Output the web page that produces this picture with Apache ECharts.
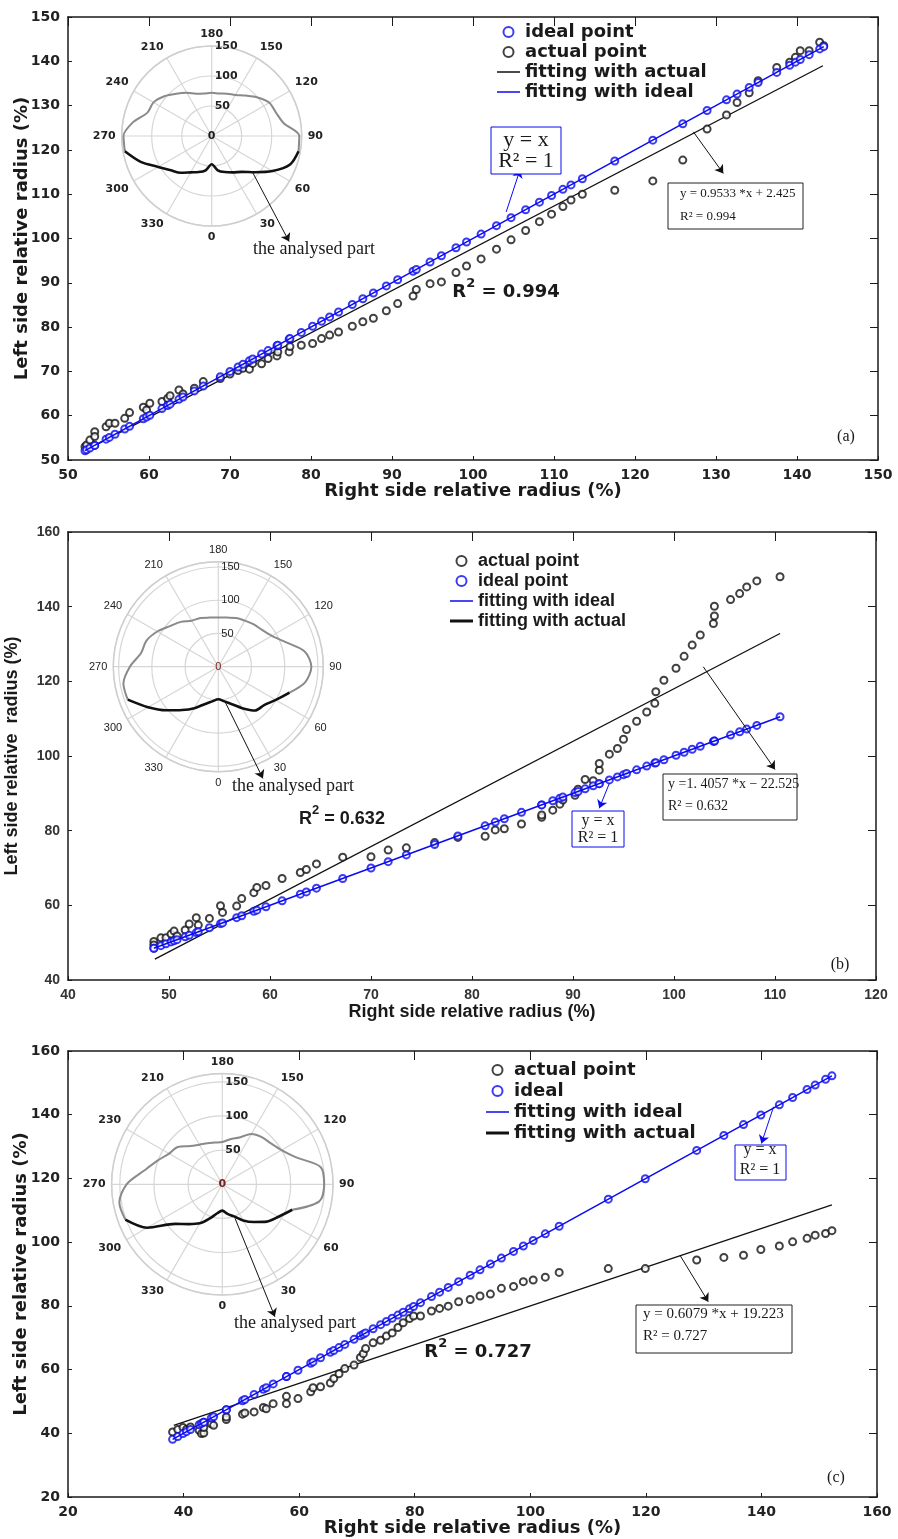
<!DOCTYPE html>
<html>
<head>
<meta charset="utf-8">
<title>Left vs right side relative radius</title>
<script src="https://cdn.jsdelivr.net/npm/echarts@6/dist/echarts.min.js"></script>
<style>
  html, body { margin: 0; padding: 0; background: #fff; }
  #chart { width: 898px; height: 1539px; }
</style>
</head>
<body>
<div id="chart"></div>
<script>
// ---------- panel (a) ----------
const rightA = [52.1, 52.3, 52.7, 53.3, 53.3, 54.7, 55.1, 55.8, 57.0, 57.6,
    59.3, 59.7, 60.1, 61.6, 62.3, 62.6, 63.7, 64.2, 65.6, 66.7, 68.8,
    70.0, 71.0, 71.6, 72.4, 72.8, 73.9, 74.7, 75.8, 75.9, 77.3,
    77.4, 78.8, 80.2, 81.3, 82.3, 83.4, 85.1, 86.4, 87.7, 89.3,
    90.7, 92.6, 93.0, 94.7, 96.1, 97.9, 99.2, 101.0, 102.9, 104.7,
    106.5, 108.2, 109.7, 111.1, 112.1, 113.5, 117.5, 122.2, 125.9, 128.9,
    131.3, 132.6, 134.1, 135.2, 137.5, 139.1, 139.8, 140.4, 141.5, 142.8, 143.3];
const leftA = [53.0, 53.4, 54.5, 56.4, 55.3, 57.5, 58.3, 58.3, 59.4, 60.7,
    61.9, 61.3, 62.8, 63.2, 63.9, 64.5, 65.8, 64.9, 66.2, 67.7, 68.4,
    69.4, 70.2, 70.7, 70.5, 71.8, 71.7, 72.9, 73.5, 74.4, 74.4,
    75.6, 75.9, 76.3, 77.4, 78.2, 78.9, 80.2, 81.2, 82.0, 83.7,
    85.3, 87.0, 88.5, 89.8, 90.2, 92.3, 93.8, 95.4, 97.6, 99.7,
    101.8, 103.8, 105.5, 107.2, 108.7, 110.0, 110.9, 113.0, 117.7, 124.7,
    127.9, 130.7, 132.9, 135.6, 138.6, 139.8, 140.9, 142.4, 142.4, 144.3, 143.5];
const fitActualA = [[52.0, 52.0], [143.2, 139.0]];
const fitIdealA = [[52.1, 52.1], [143.3, 143.3]];

// ---------- panel (b) ----------
const rightB = [48.5, 48.5, 49.2, 49.7, 50.2, 50.5, 50.8, 51.6, 52.0, 52.7,
    52.9, 54.0, 55.1, 55.3, 56.7, 57.2, 58.4, 58.7, 59.6, 61.2,
    63.0, 63.6, 64.6, 67.2, 70.0, 71.7, 73.5, 76.3, 78.6, 81.3,
    82.3, 83.2, 84.9, 86.9, 86.9, 88.0, 88.7, 89.0, 90.2, 90.5,
    91.2, 92.0, 92.6, 92.6, 93.6, 94.4, 95.0, 95.3, 96.3, 97.3,
    98.1, 98.2, 99.0, 100.2, 101.0, 101.8, 102.6, 103.9, 104.0, 104.0,
    105.6, 106.5, 107.2, 108.2, 110.5];
const leftB = [50.3, 49.4, 51.3, 51.3, 52.3, 53.1, 51.8, 53.4, 55.0, 56.7,
    54.7, 56.5, 59.9, 58.1, 59.8, 61.8, 63.4, 64.8, 65.3, 67.2,
    68.8, 69.6, 71.1, 72.9, 73.0, 74.8, 75.4, 76.8, 78.2, 78.5,
    80.2, 80.5, 81.8, 83.6, 84.2, 85.5, 87.1, 88.2, 89.5, 91.1,
    93.7, 93.4, 96.2, 98.0, 100.5, 102.0, 104.5, 107.1, 109.3, 111.8,
    114.1, 117.2, 120.3, 123.5, 126.7, 129.7, 132.4, 135.5, 137.5, 140.1,
    141.9, 143.5, 145.3, 146.9, 148.0];
const fitActualB = [[48.6, 45.6], [110.5, 132.8]];
const fitIdealB = [[48.5, 48.5], [110.5, 110.5]];

// ---------- panel (c) ----------
const rightC = [38.1, 39.0, 39.9, 40.5, 41.2, 42.7, 43.1, 43.5, 43.5, 44.8,
    45.2, 47.4, 47.4, 50.2, 50.6, 52.2, 53.8, 54.3, 55.5, 57.8,
    57.8, 59.8, 62.0, 62.4, 63.7, 65.4, 66.0, 66.9, 67.9, 69.5,
    70.6, 71.1, 71.5, 72.8, 74.1, 75.1, 76.1, 77.1, 78.0, 79.1,
    79.8, 81.0, 82.9, 84.3, 85.8, 87.6, 89.6, 91.3, 93.1, 95.0,
    97.1, 98.8, 100.5, 102.6, 105.0, 113.5, 119.9, 128.8, 133.5, 136.9,
    139.9, 143.1, 145.4, 147.9, 149.3, 151.1, 152.2];
const leftC = [40.4, 41.2, 41.8, 41.2, 42.0, 40.9, 39.9, 40.1, 41.8, 43.0,
    42.5, 44.3, 45.1, 46.0, 46.4, 46.7, 48.1, 47.7, 49.3, 51.6,
    49.3, 50.9, 53.0, 54.3, 54.6, 55.8, 57.2, 58.7, 60.3, 61.4,
    63.8, 65.0, 66.6, 68.4, 69.2, 70.5, 71.5, 73.2, 74.7, 76.0,
    76.8, 76.8, 78.4, 79.2, 79.9, 81.3, 82.0, 83.1, 83.7, 85.5,
    86.1, 87.6, 88.1, 89.0, 90.5, 91.7, 91.7, 94.4, 95.2, 95.9,
    97.7, 98.8, 100.1, 101.2, 102.2, 102.7, 103.6];
const fitActualC = [[38.3, 42.5], [152.2, 111.7]];
const fitIdealC = [[38.1, 38.1], [152.2, 152.2]];

// ---------- inset outlines (radius at each angle, degrees) ----------
const outlineAngles = [0, 10, 20, 30, 40, 50, 60, 70, 80, 90, 100, 110,
    120, 130, 140, 150, 160, 170, 180, 190, 200, 210, 220, 230,
    240, 250, 260, 270, 280, 290, 300, 310, 320, 330, 340, 350];
const outlineA = [47, 58, 64, 70, 78, 94, 117, 139, 147, 146, 122, 114,
    111, 100, 88, 79, 75, 72, 72, 72, 75, 83, 92, 103,
    112, 114, 133, 147, 147, 126, 103, 89, 80, 70, 64, 58];
const outlineB = [49, 53, 60, 72, 86, 90, 100, 114, 133, 140, 132, 108,
    93, 86, 83, 80, 78, 75, 74, 75, 78, 80, 88, 95,
    106, 115, 118, 133, 145, 145, 122, 102, 85, 72, 60, 53];
const outlineC = [38.5, 44, 50, 61, 72, 85, 95, 109, 144, 149, 146, 115,
    100, 93, 90, 85, 73, 67, 62, 62, 64, 67, 73, 85,
    90, 101, 116, 140, 153, 151, 127, 90, 76, 66, 53, 43];
// analysed (black) part runs from start angle through 0 to end angle
const analysedA = [280, 80];
const analysedB = [290, 70];
const analysedC = [290, 70];

const angleLabelsA = ['0', '30', '60', '90', '120', '150', '180', '210', '240', '270', '300', '330'];
const angleLabelsB = ['0', '30', '60', '90', '120', '150', '180', '210', '240', '270', '300', '330'];
const angleLabelsC = ['0', '30', '60', '90', '120', '150', '180', '210', '230', '270', '300', '330'];

// ---------- styling ----------
const DEJAVU = '"DejaVu Sans", sans-serif';
const LIBSANS = '"Liberation Sans", Arial, sans-serif';
const SERIF = '"Liberation Serif", "Times New Roman", serif';
const BLUE = '#0a0af0';
const INK = '#1a1a1a';
// flat bars used as legend icons for the fitted lines
const THIN_BAR = 'path://M0,0L46,0L46,3L0,3Z';
const THICK_BAR = 'path://M0,0L46,0L46,6L0,6Z';

const panels = [
    {
        grid: { left: 68, right: 20, top: 17, height: 443 },
        xr: [50, 150, 10], yr: [50, 150, 10], xGap: 22, yGap: 37,
        font: DEJAVU, tickColor: '#222', yName: 'Left side relative radius (%)',
        right: rightA, left: leftA, fitActual: fitActualA, fitIdeal: fitIdealA,
        idealName: 'ideal point',
        legendOrder: ['ideal point', 'actual point', 'fitting with actual', 'fitting with ideal'],
        legendPos: { left: 492, top: 18 }, legendGap: 2, thickActual: false,
        polar: { center: [211.7, 136], radius: 90, max: 150 },
        polarFont: { fontFamily: DEJAVU, fontWeight: 'bold', color: '#222' },
        outline: outlineA, analysed: analysedA, angleLabels: angleLabelsA,
        arrows: {
            blue: [[104.1, 106.0], [105.8, 115.5]],
            black: [[[127.2, 124.1], [130.9, 114.7]], [[72.8, 114.9], [77.3, 99.3]]]
        }
    },
    {
        grid: { left: 68, right: 22, top: 532, height: 448 },
        xr: [40, 120, 10], yr: [40, 160, 20], xGap: 23, yGap: 47,
        font: LIBSANS, tickColor: '#333', yName: 'Left side relative  radius (%)',
        right: rightB, left: leftB, fitActual: fitActualB, fitIdeal: fitIdealB,
        idealName: 'ideal point',
        legendOrder: ['actual point', 'ideal point', 'fitting with ideal', 'fitting with actual'],
        legendPos: { left: 445, top: 547 }, legendGap: 2, thickActual: true,
        polar: { center: [218.3, 666.7], radius: 105, max: 158 },
        polarFont: { fontFamily: LIBSANS, fontWeight: 'normal', color: '#222' },
        outline: outlineB, analysed: analysedB, angleLabels: angleLabelsB,
        arrows: {
            blue: [[93.6, 92.7], [92.6, 86.0]],
            black: [[[102.9, 123.9], [110.0, 96.4]], [[55.5, 114.8], [59.3, 94.0]]]
        }
    },
    {
        grid: { left: 68, right: 21, top: 1051, height: 446 },
        xr: [20, 160, 20], yr: [20, 160, 20], xGap: 22, yGap: 38,
        font: DEJAVU, tickColor: '#222', yName: 'Left side relative radius (%)',
        right: rightC, left: leftC, fitActual: fitActualC, fitIdeal: fitIdealC,
        idealName: 'ideal',
        legendOrder: ['actual point', 'ideal', 'fitting with ideal', 'fitting with actual'],
        legendPos: { left: 481, top: 1056 }, legendGap: 3, thickActual: true,
        polar: { center: [222.3, 1184.3], radius: 110.7, max: 162 },
        polarFont: { fontFamily: DEJAVU, fontWeight: 'bold', color: '#222' },
        outline: outlineC, analysed: analysedC, angleLabels: angleLabelsC,
        arrows: {
            blue: [[142.1, 142.5], [140.0, 131.0]],
            black: [[[125.9, 95.9], [130.8, 81.3]], [[48.9, 107.5], [55.8, 76.6]]]
        }
    }
];

// angle axis runs 180..540 so that 180 sits on top and the radius labels go upwards
function toAxisAngle(a) {
    return a < 180 ? a + 360 : a;
}

function splitOutline(radii, range) {
    const [from, to] = range;
    const analysed = [];
    const rest = [];
    outlineAngles.forEach((a, i) => {
        if (a >= from || a <= to) analysed.push([radii[i], toAxisAngle(a)]);
        if (a >= to && a <= from) rest.push([radii[i], toAxisAngle(a)]);
    });
    analysed.sort((p, q) => p[1] - q[1]);
    return { analysed, rest };
}

function makeAxes(p, i) {
    const tickLabel = { fontFamily: p.font, fontWeight: 'bold', fontSize: 14, color: p.tickColor, margin: 8 };
    const nameStyle = { fontFamily: p.font, fontWeight: 'bold', fontSize: 18, color: INK };
    const line = { show: true, onZero: false, lineStyle: { color: INK, width: 1.5 } };
    const x = {
        type: 'value', gridIndex: i, min: p.xr[0], max: p.xr[1], interval: p.xr[2],
        position: 'bottom', name: 'Right side relative radius (%)',
        nameLocation: 'middle', nameGap: p.xGap, nameTextStyle: nameStyle, nameMoveOverlap: false,
        axisLine: line, axisTick: { inside: true, length: 4, lineStyle: { color: INK } },
        axisLabel: tickLabel, splitLine: { show: false }
    };
    const xTop = {
        type: 'value', gridIndex: i, min: p.xr[0], max: p.xr[1], interval: p.xr[2],
        position: 'top', axisLine: line,
        axisTick: { inside: true, length: 9, lineStyle: { color: INK } },
        axisLabel: { show: false }, splitLine: { show: false }
    };
    const y = {
        type: 'value', gridIndex: i, min: p.yr[0], max: p.yr[1], interval: p.yr[2],
        position: 'left', name: p.yName,
        nameLocation: 'middle', nameGap: p.yGap, nameTextStyle: nameStyle, nameMoveOverlap: false,
        axisLine: line, axisTick: { inside: true, length: 4, lineStyle: { color: INK } },
        axisLabel: tickLabel, splitLine: { show: false }
    };
    const yRight = {
        type: 'value', gridIndex: i, min: p.yr[0], max: p.yr[1], interval: p.yr[2],
        position: 'right', axisLine: line,
        axisTick: { inside: true, length: 8, lineStyle: { color: INK } },
        axisLabel: { show: false }, splitLine: { show: false }
    };
    return { x: [x, xTop], y: [y, yRight] };
}

function arrowLine(pairs, color) {
    return {
        silent: true,
        symbol: ['none', 'arrow'],
        symbolSize: 8,
        label: { show: false },
        emphasis: { disabled: true },
        lineStyle: { color: color, width: 1, type: 'solid' },
        data: pairs.map(pr => [{ coord: pr[0] }, { coord: pr[1] }])
    };
}

function legendItems(p) {
    return p.legendOrder.map(name => {
        if (name === 'fitting with ideal') return { name: name, icon: THIN_BAR };
        if (name === 'fitting with actual') return { name: name, icon: p.thickActual ? THICK_BAR : THIN_BAR };
        return { name: name };
    });
}

const option = {
    backgroundColor: '#fff',
    animation: false,
    grid: [], xAxis: [], yAxis: [], legend: [],
    polar: [], angleAxis: [], radiusAxis: [],
    series: [], graphic: []
};

panels.forEach((p, i) => {
    option.grid.push(Object.assign({ outerBoundsMode: 'none' }, p.grid));
    const axes = makeAxes(p, i);
    option.xAxis.push(...axes.x);
    option.yAxis.push(...axes.y);
    const xi = i * 2;
    const yi = i * 2;

    option.legend.push({
        orient: 'vertical', left: p.legendPos.left, top: p.legendPos.top,
        itemWidth: 23, itemHeight: 10, itemGap: p.legendGap, selectedMode: false,
        data: legendItems(p),
        textStyle: { fontFamily: p.font, fontWeight: 'bold', fontSize: 18, color: INK }
    });

    // measured points
    option.series.push({
        name: 'actual point', type: 'scatter', xAxisIndex: xi, yAxisIndex: yi,
        symbol: 'emptyCircle', symbolSize: 7,
        itemStyle: { color: '#111', borderWidth: 1.3 },
        data: p.right.map((r, k) => [r, p.left[k]]), z: 3
    });
    // ideal points: left radius equals right radius
    option.series.push({
        name: p.idealName, type: 'scatter', xAxisIndex: xi, yAxisIndex: yi,
        symbol: 'emptyCircle', symbolSize: 7,
        itemStyle: { color: BLUE, borderWidth: 1.3 },
        data: p.right.map(r => [r, r]), z: 4
    });
    option.series.push({
        name: 'fitting with actual', type: 'line', xAxisIndex: xi, yAxisIndex: yi,
        symbol: 'none', lineStyle: { color: '#111', width: 1.3 },
        itemStyle: { color: '#111' },
        data: p.fitActual, z: 2,
        markLine: arrowLine(p.arrows.black, '#111')
    });
    option.series.push({
        name: 'fitting with ideal', type: 'line', xAxisIndex: xi, yAxisIndex: yi,
        symbol: 'none', lineStyle: { color: BLUE, width: 1.5 },
        itemStyle: { color: BLUE },
        data: p.fitIdeal, z: 5,
        markLine: arrowLine([p.arrows.blue], BLUE)
    });

    // inset polar plot
    option.polar.push({ center: p.polar.center, radius: p.polar.radius });
    option.angleAxis.push({
        polarIndex: i, type: 'value', min: 180, max: 540, interval: 30,
        startAngle: 90, clockwise: false,
        axisLine: { lineStyle: { color: '#cfcfcf', width: 1.5 } },
        axisTick: { show: false },
        axisLabel: Object.assign({
            fontSize: 11, margin: 6,
            formatter: v => p.angleLabels[Math.round((v % 360) / 30) % 12]
        }, p.polarFont),
        splitLine: { show: true, lineStyle: { color: '#d6d6d6', width: 1.2 } }
    });
    option.radiusAxis.push({
        polarIndex: i, type: 'value', min: 0, max: p.polar.max, interval: 50,
        axisLine: { show: false }, axisTick: { show: false },
        axisLabel: Object.assign({
            fontSize: 11, margin: -3, align: 'left',
            formatter: v => (v === 50 || v === 100 || v === 150) ? String(v) : ''
        }, p.polarFont),
        splitLine: { show: true, lineStyle: { color: '#d6d6d6', width: 1.2 } }
    });
    const parts = splitOutline(p.outline, p.analysed);
    option.series.push({
        type: 'line', coordinateSystem: 'polar', polarIndex: i, silent: true,
        showSymbol: false, smooth: 0.3,
        lineStyle: { color: '#8a8a8a', width: 2 }, data: parts.rest, z: 6
    });
    option.series.push({
        type: 'line', coordinateSystem: 'polar', polarIndex: i, silent: true,
        showSymbol: false, smooth: 0.3,
        lineStyle: { color: '#111', width: 2.6 }, data: parts.analysed, z: 7
    });
});

// ---------- annotations ----------
function text(x, y, str, font, extra) {
    return {
        type: 'text', x: x, y: y, z: 60, silent: true,
        style: Object.assign({ text: str, font: font, fill: INK, textAlign: 'left', textVerticalAlign: 'middle' }, extra || {})
    };
}
// bold "R^2 = value" with a raised 2
function rSquared(x, y, value, family) {
    return {
        type: 'text', x: x, y: y, z: 60, silent: true,
        style: {
            text: '{r|R}{s|2}{r| = ' + value + '}',
            textAlign: 'center', textVerticalAlign: 'middle', fill: INK,
            rich: {
                r: { fontFamily: family, fontWeight: 'bold', fontSize: 18, lineHeight: 24, verticalAlign: 'bottom' },
                s: { fontFamily: family, fontWeight: 'bold', fontSize: 13, lineHeight: 24, verticalAlign: 'top' }
            }
        }
    };
}
function frame(x, y, w, h, color) {
    return {
        type: 'rect', z: 55, silent: true,
        shape: { x: x, y: y, width: w, height: h },
        style: { fill: '#fff', stroke: color, lineWidth: 1 }
    };
}
const serif = size => size + 'px ' + SERIF;
const centre = { textAlign: 'center' };

option.graphic = [
    // (a)
    frame(491, 127, 70, 47, BLUE),
    text(526, 140, 'y = x', serif(22), centre),
    text(526, 161, 'R² = 1', serif(22), centre),
    frame(668, 183, 135, 46, '#222'),
    text(680, 194, 'y = 0.9533 *x + 2.425', serif(13)),
    text(680, 217, 'R² = 0.994', serif(13)),
    rSquared(506, 289, '0.994', DEJAVU),
    text(846, 437, '(a)', serif(16), centre),
    text(253, 249, 'the analysed part', serif(18)),
    text(211.7, 136, '0', 'bold 11px ' + DEJAVU, centre),
    // (b)
    frame(572, 811, 52, 36, BLUE),
    text(598, 821, 'y = x', serif(16), centre),
    text(598, 838, 'R² = 1', serif(16), centre),
    frame(663, 774, 134, 46, '#222'),
    text(668, 784, 'y =1. 4057 *x − 22.525', serif(14)),
    text(668, 806, 'R² = 0.632', serif(14)),
    rSquared(342, 816, '0.632', LIBSANS),
    text(840, 965, '(b)', serif(16), centre),
    text(232, 786, 'the analysed part', serif(18)),
    text(218.3, 666.7, '0', '11px ' + LIBSANS, Object.assign({ fill: '#7a1f1f' }, centre)),
    // (c)
    frame(735, 1145, 51, 35, BLUE),
    text(760, 1150, 'y = x', serif(16), centre),
    text(760, 1170, 'R² = 1', serif(16), centre),
    frame(636, 1305, 156, 48, '#222'),
    text(643, 1314, 'y = 0.6079 *x + 19.223', serif(15)),
    text(643, 1336, 'R² = 0.727', serif(15)),
    rSquared(478, 1349, '0.727', DEJAVU),
    text(836, 1478, '(c)', serif(16), centre),
    text(234, 1323, 'the analysed part', serif(18)),
    text(222.3, 1184.3, '0', 'bold 11px ' + DEJAVU, Object.assign({ fill: '#7a1f1f' }, centre))
];

const chart = echarts.init(document.getElementById('chart'), null, { renderer: 'canvas', width: 898, height: 1539 });
chart.setOption(option);
</script>
</body>
</html>
